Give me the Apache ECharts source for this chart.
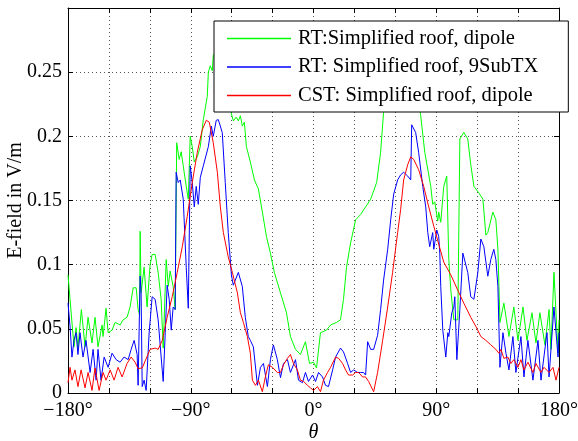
<!DOCTYPE html>
<html>
<head>
<meta charset="utf-8">
<script src="https://cdn.jsdelivr.net/npm/echarts@6/dist/echarts.min.js"></script>
<style>
  html, body { margin: 0; padding: 0; background: #fff; }
  #main { width: 578px; height: 441px; }
</style>
</head>
<body>
<div id="main"></div>
<script>
// theta in degrees, E-field in V/m
const rtDipole = [
  [-180, 0.092], [-175.6, 0.036], [-174.1, 0.051], [-172.7, 0.035], [-170.2, 0.065], [-167.5, 0.036],
  [-165.3, 0.059], [-162.4, 0.039], [-160.2, 0.059], [-158.0, 0.036], [-155.0, 0.053], [-154.3, 0.044],
  [-152.1, 0.066], [-150.6, 0.047], [-147.7, 0.049], [-145.5, 0.055], [-141.8, 0.053], [-139.6, 0.057],
  [-136.7, 0.059], [-134.5, 0.067], [-132.2, 0.082], [-130.0, 0.082], [-128.6, 0.065], [-127.5, 0.061],
  [-127.1, 0.126], [-126.4, 0.078], [-124.2, 0.098], [-122.0, 0.067], [-119.8, 0.1], [-118.3, 0.108],
  [-116.1, 0.108], [-113.9, 0.094], [-111.7, 0.073], [-110.2, 0.035], [-108.0, 0.104], [-106.5, 0.083],
  [-105.1, 0.095], [-102.9, 0.083], [-101.4, 0.065], [-100.3, 0.195], [-98.5, 0.182], [-97.0, 0.188],
  [-95.5, 0.177], [-93.3, 0.161], [-91.8, 0.151], [-90.4, 0.2], [-88.9, 0.192], [-87.4, 0.18],
  [-85.2, 0.184], [-83.0, 0.192], [-80.8, 0.213], [-77.9, 0.231], [-77.1, 0.25], [-75.7, 0.255],
  [-74.2, 0.251], [-73.5, 0.263], [-68.3, 0.272], [-64.0, 0.248], [-61.0, 0.221], [-58.8, 0.212],
  [-56.6, 0.215], [-55.1, 0.212], [-53.6, 0.216], [-52.2, 0.208], [-50.7, 0.211], [-49.2, 0.192],
  [-46.3, 0.18], [-43.3, 0.166], [-40.4, 0.159], [-37.5, 0.141], [-34.5, 0.122], [-31.6, 0.109],
  [-28.7, 0.094], [-24.2, 0.078], [-19.8, 0.0625], [-16.9, 0.044], [-13.2, 0.034], [-9.6, 0.03],
  [-5.9, 0.04], [-2.9, 0.023], [0, 0.024], [2.2, 0.0195], [5.1, 0.047], [9.6, 0.049],
  [12.5, 0.053], [16.9, 0.055], [19.8, 0.057], [22.0, 0.073], [24.2, 0.098], [27.2, 0.117],
  [30.9, 0.135], [34.5, 0.139], [38.2, 0.145], [41.9, 0.151], [46.3, 0.164], [49.2, 0.1875],
  [51.4, 0.219], [56.6, 0.252], [63.9, 0.275], [71.3, 0.26], [77.9, 0.222], [78.6, 0.216],
  [81.6, 0.1875], [86.0, 0.161], [87.4, 0.147], [88.9, 0.149], [91.1, 0.134], [91.8, 0.141],
  [93.3, 0.133], [95.5, 0.161], [97.7, 0.169], [99.2, 0.104], [100.7, 0.08], [102.9, 0.057],
  [105.8, 0.057], [107.3, 0.198], [110.2, 0.203], [113.1, 0.198], [115.3, 0.178], [117.6, 0.161],
  [121.2, 0.156], [124.2, 0.151], [126.4, 0.123], [127.8, 0.125], [131.5, 0.141], [133.7, 0.135],
  [135.2, 0.112], [136.7, 0.055], [139.6, 0.07], [143.3, 0.044], [146.9, 0.067], [149.9, 0.041],
  [153.6, 0.067], [156.5, 0.041], [160.2, 0.0625], [163.1, 0.039], [166.0, 0.0625], [169.7, 0.0375],
  [172.7, 0.065], [174.1, 0.034], [176.3, 0.094], [179.3, 0.031], [180, 0.057]
];

const rt9SubTX = [
  [-180, 0.07], [-178.5, 0.052], [-177.1, 0.028], [-175.6, 0.041], [-174.1, 0.047], [-172.7, 0.03],
  [-171.2, 0.047], [-169.0, 0.028], [-166.8, 0.041], [-163.8, 0.016], [-161.6, 0.034], [-159.4, 0.01],
  [-158.0, 0.034], [-155.8, 0.01], [-153.5, 0.028], [-150.6, 0.02], [-147.7, 0.031], [-144.7, 0.026],
  [-141.8, 0.024], [-138.9, 0.028], [-135.9, 0.026], [-133.7, 0.034], [-131.5, 0.041], [-129.3, 0.03],
  [-128.6, 0.006], [-127.1, 0.091], [-126.4, 0.078], [-125.6, 0.005], [-124.2, 0.01], [-122.7, 0.002],
  [-120.5, 0.047], [-118.3, 0.075], [-116.1, 0.073], [-113.9, 0.057], [-111.7, 0.028], [-110.2, 0.009],
  [-108.7, 0.047], [-107.3, 0.084], [-105.8, 0.073], [-104.3, 0.049], [-102.9, 0.067], [-101.4, 0.065],
  [-100.7, 0.172], [-99.2, 0.164], [-97.7, 0.166], [-95.5, 0.151], [-93.3, 0.098], [-91.8, 0.066],
  [-90.4, 0.177], [-88.9, 0.164], [-87.4, 0.145], [-86.0, 0.161], [-84.5, 0.147], [-83.0, 0.168],
  [-80.8, 0.177], [-77.1, 0.192], [-74.9, 0.208], [-73.5, 0.2], [-71.3, 0.2125], [-69.8, 0.213],
  [-66.9, 0.203], [-64.7, 0.164], [-62.5, 0.125], [-60.2, 0.092], [-58.8, 0.084], [-55.1, 0.094],
  [-52.2, 0.083], [-50.0, 0.059], [-47.8, 0.044], [-46.3, 0.041], [-44.1, 0.036], [-41.1, 0.006],
  [-38.9, 0.02], [-36.7, 0.023], [-33.8, 0.005], [-31.6, 0.026], [-29.4, 0.0375], [-26.5, 0.026],
  [-24.2, 0.012], [-22.0, 0.023], [-19.1, 0.026], [-16.9, 0.016], [-13.2, 0.026], [-11.0, 0.01],
  [-8.1, 0.008], [-5.9, 0.016], [-3.7, 0.009], [-0.7, 0.014], [1.5, 0.009], [3.7, 0.016],
  [6.6, 0.0125], [8.8, 0.006], [11.0, 0.005], [14.0, 0.018], [16.2, 0.028], [19.8, 0.035],
  [22.0, 0.032], [25.0, 0.023], [27.2, 0.016], [29.4, 0.018], [32.3, 0.016], [34.5, 0.016],
  [36.7, 0.016], [38.2, 0.014], [39.7, 0.04], [41.9, 0.034], [44.1, 0.034], [47.0, 0.045],
  [49.2, 0.065], [51.4, 0.088], [54.4, 0.112], [56.6, 0.135], [58.8, 0.155], [61.7, 0.166],
  [63.9, 0.17], [66.1, 0.172], [69.1, 0.169], [71.3, 0.166], [72.0, 0.209], [74.9, 0.203],
  [77.1, 0.1875], [80.1, 0.161], [82.3, 0.145], [83.8, 0.125], [85.2, 0.114], [87.4, 0.125],
  [88.2, 0.112], [90.4, 0.127], [91.8, 0.122], [92.6, 0.109], [93.3, 0.083], [94.8, 0.049],
  [97.0, 0.028], [98.5, 0.047], [99.2, 0.044], [101.4, 0.0625], [102.9, 0.067], [103.6, 0.075],
  [105.1, 0.026], [107.3, 0.065], [109.5, 0.109], [110.9, 0.109], [113.1, 0.094], [115.3, 0.075],
  [117.6, 0.073], [120.5, 0.094], [122.7, 0.12], [124.9, 0.114], [127.8, 0.091], [130.0, 0.104],
  [132.2, 0.112], [133.7, 0.104], [135.2, 0.083], [136.7, 0.02], [138.9, 0.047], [141.1, 0.031],
  [143.3, 0.018], [146.2, 0.044], [148.4, 0.016], [152.1, 0.044], [154.3, 0.0125], [157.2, 0.041],
  [160.9, 0.01], [164.6, 0.041], [166.8, 0.01], [171.2, 0.047], [172.7, 0.0125], [176.3, 0.067],
  [179.3, 0.028], [180, 0.047]
];

const cstDipole = [
  [-180, 0.008], [-178.5, 0.02], [-177.1, 0.01], [-174.9, 0.018], [-172.7, 0.005], [-170.4, 0.018],
  [-167.5, 0.004], [-165.3, 0.016], [-162.4, 0.002], [-160.2, 0.0195], [-157.2, 0.002], [-154.3, 0.016],
  [-152.1, 0.01], [-149.1, 0.018], [-146.2, 0.01], [-143.3, 0.02], [-140.3, 0.0125], [-136.7, 0.023],
  [-133.7, 0.028], [-130.8, 0.024], [-128.6, 0.019], [-125.6, 0.0195], [-123.4, 0.025], [-119.8, 0.034],
  [-116.1, 0.035], [-113.9, 0.034], [-110.9, 0.041], [-107.3, 0.059], [-103.6, 0.075], [-99.9, 0.094],
  [-96.2, 0.114], [-92.6, 0.1375], [-88.9, 0.164], [-85.2, 0.1875], [-81.6, 0.205], [-78.6, 0.2125],
  [-76.4, 0.211], [-73.5, 0.195], [-70.5, 0.172], [-68.3, 0.145], [-66.1, 0.125], [-62.5, 0.106],
  [-59.5, 0.094], [-55.8, 0.078], [-53.6, 0.0625], [-51.4, 0.055], [-48.5, 0.044], [-46.3, 0.031],
  [-44.8, 0.01], [-42.6, 0.006], [-40.4, 0.01], [-37.5, 0.001], [-35.3, 0.0125], [-33.1, 0.022],
  [-30.1, 0.02], [-26.5, 0.016], [-24.2, 0.016], [-22.0, 0.022], [-19.1, 0.027], [-16.9, 0.03],
  [-14.7, 0.023], [-11.8, 0.018], [-9.6, 0.01], [-7.3, 0.009], [-4.4, 0.006], [-2.2, 0.004],
  [0, 0.002], [2.9, 0.005], [5.1, 0.001], [7.3, 0.01], [10.3, 0.016], [12.5, 0.02],
  [16.2, 0.028], [18.4, 0.027], [21.3, 0.023], [23.5, 0.018], [25.7, 0.014], [28.7, 0.014],
  [30.9, 0.016], [33.1, 0.016], [36.0, 0.0125], [38.2, 0.0125], [40.4, 0.009], [44.1, 0.001],
  [47.0, 0.016], [50.7, 0.041], [54.4, 0.067], [58.0, 0.094], [61.7, 0.125], [63.9, 0.143],
  [66.1, 0.166], [69.1, 0.178], [71.3, 0.184], [73.5, 0.182], [77.1, 0.174], [80.8, 0.161],
  [84.5, 0.145], [88.2, 0.13], [91.8, 0.116], [95.5, 0.102], [100.7, 0.092], [105.8, 0.08],
  [110.2, 0.07], [115.3, 0.059], [119.0, 0.052], [122.7, 0.044], [126.4, 0.041], [130.0, 0.0375],
  [133.7, 0.034], [135.9, 0.031], [137.4, 0.034], [139.6, 0.027], [142.5, 0.028], [144.7, 0.023],
  [146.9, 0.026], [149.9, 0.02], [152.1, 0.026], [154.3, 0.018], [157.2, 0.024], [160.9, 0.016],
  [163.1, 0.023], [166.8, 0.016], [169.0, 0.02], [172.7, 0.016], [175.6, 0.02], [177.8, 0.01],
  [180, 0.02]
];

const seriesNames = ['RT:Simplified roof, dipole', 'RT: Simplified roof, 9SubTX', 'CST: Simplified roof, dipole'];
const seriesColors = ['#00ff00', '#0000ff', '#ff0000'];
const xTickLabels = [-180, -90, 0, 90, 180];

const font = 'Liberation Serif, Times New Roman, serif';

function fmtX(v) {
  if (xTickLabels.indexOf(v) < 0) return '';
  return (v < 0 ? '\u2212' + (-v) : v) + '\u00b0';
}
function fmtY(v) {
  if (v > 0.29) return '';
  return String(parseFloat(v.toFixed(2)));
}

const gridLine = { show: true, lineStyle: { color: '#555', type: [1, 3], width: 1 } };
const axisCommon = {
  axisLine: { show: true, onZero: false, lineStyle: { color: '#000', width: 1 } },
  axisTick: { show: true, inside: true, length: 5, lineStyle: { color: '#000' } }
};

const chart = echarts.init(document.getElementById('main'), null, { renderer: 'canvas' });
chart.setOption({
  animation: false,
  backgroundColor: '#fff',
  grid: { left: 68, right: 19, top: 8, bottom: 48, containLabel: false, outerBoundsMode: 'none' },
  legend: {
    orient: 'vertical',
    left: 214,
    top: 21,
    padding: [7, 30, 6, 13],
    itemGap: 7.5,
    itemWidth: 64,
    itemHeight: 1.5,
    icon: 'rect',
    backgroundColor: '#fff',
    borderColor: '#000',
    borderWidth: 1,
    borderRadius: 0,
    textStyle: { fontFamily: font, fontSize: 20.5, color: '#000', lineHeight: 20, padding: [0, 0, 0, 2] },
    data: seriesNames.map((n, i) => ({ name: n, itemStyle: { color: seriesColors[i], borderWidth: 0 } }))
  },
  xAxis: [
    {
      type: 'value', min: -180, max: 180, interval: 30,
      ...axisCommon,
      splitLine: gridLine,
      axisLabel: { formatter: fmtX, fontFamily: font, fontSize: 20, color: '#000', margin: 8, showMinLabel: true, showMaxLabel: true },
      name: '\u03b8', nameLocation: 'middle', nameGap: 30, nameMoveOverlap: false,
      nameTextStyle: { fontFamily: font, fontSize: 20, fontStyle: 'italic', color: '#000' }
    },
    {
      type: 'value', min: -180, max: 180, interval: 30, position: 'top',
      ...axisCommon, splitLine: { show: false }, axisLabel: { show: false }
    }
  ],
  yAxis: [
    {
      type: 'value', min: 0, max: 0.3, interval: 0.05,
      ...axisCommon,
      splitLine: gridLine,
      axisLabel: { formatter: fmtY, fontFamily: font, fontSize: 20, color: '#000', margin: 6 },
      name: 'E-field in V/m', nameLocation: 'middle', nameGap: 42, nameRotate: 90, nameMoveOverlap: false,
      nameTextStyle: { fontFamily: font, fontSize: 20, color: '#000' }
    },
    {
      type: 'value', min: 0, max: 0.3, interval: 0.05, position: 'right',
      ...axisCommon, splitLine: { show: false }, axisLabel: { show: false }
    }
  ],
  series: [rtDipole, rt9SubTX, cstDipole].map((d, i) => ({
    name: seriesNames[i],
    type: 'line',
    data: d,
    showSymbol: false,
    symbol: 'none',
    smooth: false,
    lineStyle: { color: seriesColors[i], width: 1 },
    itemStyle: { color: seriesColors[i] },
    emphasis: { disabled: true }
  }))
});
</script>
</body>
</html>
